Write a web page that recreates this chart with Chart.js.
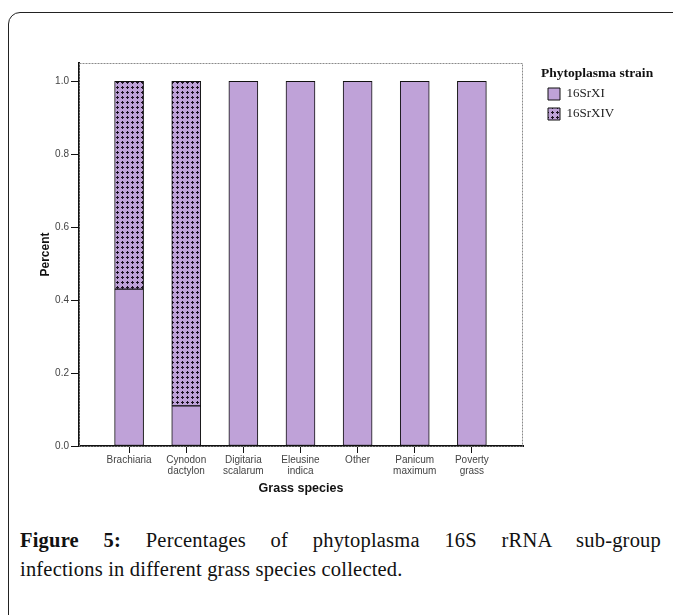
<!DOCTYPE html>
<html>
<head>
<meta charset="utf-8">
<script src="https://cdn.jsdelivr.net/npm/chart.js@4/dist/chart.umd.min.js"></script>
<style>
  html, body { margin: 0; padding: 0; background: #fff; overflow: hidden; }
  body { width: 673px; height: 615px; position: relative; }
  .frame {
    position: absolute; left: 8px; top: 12px; width: 720px; height: 700px;
    border: 1px solid #222; border-radius: 12px;
  }
  .chart-box { position: absolute; left: 0; top: 0; width: 673px; height: 510px; }
  .caption {
    position: absolute; left: 20px; top: 526px; width: 641px;
    font-family: "Liberation Serif", serif; font-size: 20.5px; line-height: 29px;
    letter-spacing: 0.2px; color: #111;
  }
  .caption .l1 { text-align: justify; text-align-last: justify; }
</style>
</head>
<body>
<div class="frame"></div>
<div class="chart-box"><canvas id="chart" width="673" height="510"></canvas></div>
<div class="caption">
  <div class="l1"><b>Figure 5:</b> Percentages of phytoplasma 16S rRNA sub-group</div>
  <div>infections in different grass species collected.</div>
</div>

<script>
const grassSpecies = [
  ["Brachiaria"],
  ["Cynodon", "dactylon"],
  ["Digitaria", "scalarum"],
  ["Eleusine", "indica"],
  ["Other"],
  ["Panicum", "maximum"],
  ["Poverty", "grass"],
];
const strainNames = ["16SrXI", "16SrXIV"];
const pct16SrXI = [0.43, 0.11, 1, 1, 1, 1, 1];
const pct16SrXIV = [0.57, 0.89, 0, 0, 0, 0, 0];
const yTicks = [0, 0.2, 0.4, 0.6, 0.8, 1.0];

const purple = "rgb(191,162,216)";

// cross-hatch pattern for the second strain
function makePattern() {
  const c = document.createElement("canvas");
  c.width = 5;
  c.height = 5;
  const g = c.getContext("2d");
  g.fillStyle = purple;
  g.fillRect(0, 0, 5, 5);
  g.fillStyle = "#1a1020";
  g.fillRect(2, 1, 1, 3);
  g.fillRect(1, 2, 3, 1);
  return g.createPattern(c, "repeat");
}
const hatch = makePattern();

// grey frame around the plot area (top and right sides show)
const plotFrame = {
  id: "plotFrame",
  beforeDatasetsDraw(chart) {
    const { ctx, chartArea: a } = chart;
    ctx.save();
    ctx.strokeStyle = "#8a8a8a";
    ctx.lineWidth = 1;
    ctx.setLineDash([2, 1]);
    ctx.strokeRect(a.left + 0.5, a.top + 0.5, a.right - a.left - 1, a.bottom - a.top);
    ctx.restore();
  },
};

// legend is only as wide as its items, so the title got cut; widen it
const legendWidth = {
  id: "legendWidth",
  beforeLayout(chart) {
    const lg = chart.legend;
    if (!lg || lg._widened) return;
    const fit = lg.fit;
    lg.fit = function () {
      fit.call(this);
      this.width = Math.max(this.width, 125);
    };
    lg._widened = true;
  },
};

new Chart(document.getElementById("chart"), {
  type: "bar",
  data: {
    datasets: [
      {
        label: strainNames[0],
        data: pct16SrXI.map((v, i) => ({ x: i, y: v })),
        backgroundColor: purple,
        borderColor: "#111",
        borderWidth: 1,
        borderSkipped: false,
        barThickness: 29,
      },
      {
        label: strainNames[1],
        data: pct16SrXIV.map((v, i) => ({ x: i, y: v })),
        backgroundColor: hatch,
        borderColor: "#111",
        borderWidth: 1,
        borderSkipped: false,
        barThickness: 29,
      },
    ],
  },
  options: {
    responsive: false,
    animation: false,
    layout: { padding: { left: 0, top: 63, right: 7, bottom: 0 } },
    plugins: {
      tooltip: { enabled: false },
      legend: {
        position: "right",
        align: "start",
        title: {
          display: true,
          text: "Phytoplasma strain",
          position: "start",
          color: "#111",
          padding: { top: 4, bottom: 0 },
          font: { family: "Liberation Serif", size: 13.5, weight: "bold", lineHeight: 1 },
        },
        labels: {
          boxWidth: 12,
          boxHeight: 12,
          padding: 7,
          color: "#222",
          font: { family: "Liberation Serif", size: 13, lineHeight: 1 },
        },
      },
    },
    scales: {
      x: {
        type: "linear",
        stacked: true,
        offset: false,
        min: -0.877,
        max: 6.895,
        afterBuildTicks: (s) => {
          s.ticks = grassSpecies.map((_, i) => ({ value: i }));
        },
        afterFit: (s) => {
          s.height = 64;
        },
        grid: { display: true, offset: false, drawOnChartArea: false, tickLength: 7, color: "#111" },
        border: { display: true, color: "#111", width: 2 },
        ticks: {
          autoSkip: false,
          maxRotation: 0,
          padding: 2,
          color: "#444",
          font: { family: "Liberation Sans", size: 10, lineHeight: 1.1 },
          callback: (v) => grassSpecies[v],
        },
        title: {
          display: true,
          text: "Grass species",
          color: "#111",
          padding: { top: 0, bottom: 14 },
          font: { family: "Liberation Sans", size: 12.5, weight: "bold" },
        },
      },
      y: {
        stacked: true,
        min: 0,
        max: 1.05,
        afterBuildTicks: (s) => {
          s.ticks = yTicks.map((v) => ({ value: v }));
        },
        afterFit: (s) => {
          s.width = 79;
        },
        grid: { display: true, drawOnChartArea: false, tickLength: 8, color: "#111" },
        border: { display: true, color: "#111", width: 2 },
        ticks: {
          padding: 2,
          color: "#444",
          font: { family: "Liberation Sans", size: 10 },
          callback: (v) => v.toFixed(1),
        },
        title: {
          display: true,
          text: "Percent",
          color: "#111",
          padding: { top: 38, bottom: 0 },
          font: { family: "Liberation Sans", size: 12, weight: "bold" },
        },
      },
      gap: {
        type: "linear",
        position: "right",
        display: true,
        grid: { display: false },
        border: { display: false },
        ticks: { display: false },
        afterFit: (s) => {
          s.width = 18;
        },
      },
    },
  },
  plugins: [plotFrame, legendWidth],
});
</script>
</body>
</html>
